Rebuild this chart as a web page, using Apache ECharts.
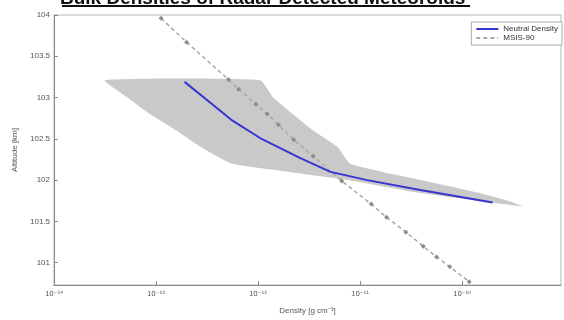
<!DOCTYPE html>
<html>
<head>
<meta charset="utf-8">
<script src="https://cdn.jsdelivr.net/npm/echarts@6/dist/echarts.min.js"></script>
<style>
  html, body { margin: 0; padding: 0; background: #fff; }
  #chart { width: 564px; height: 320px; }
</style>
</head>
<body>
<div id="chart"></div>
<script>
'use strict';

// x values are log10 of density, shown as 10^n on the axis
const xTicks = [-14, -13, -12, -11, -10];
const yTicks = [101, 101.5, 102, 102.5, 103, 103.5, 104];

// Neutral Density (blue line)
const neutralAlt = [103.19, 102.94, 102.72, 102.51, 102.27, 102.10, 102.00, 101.88, 101.73];
const neutralLogDens = [-12.72, -12.47, -12.25, -11.98, -11.59, -11.29, -10.93, -10.41, -9.70];

// grey uncertainty band, left and right edges per altitude
const bandAlt = [103.21, 103.0, 102.8, 102.6, 102.4, 102.2, 102.1, 102.0, 101.85, 101.75, 101.68];
const bandLow = [-13.5, -13.28, -13.06, -12.8, -12.56, -12.26, -11.7, -11.1, -10.44, -9.85, -9.4];
const bandHigh = [-11.98, -11.85, -11.66, -11.46, -11.22, -11.1, -10.78, -10.39, -9.85, -9.55, -9.4];

// MSIS-90
const msisAlt = [103.96, 103.67, 103.22, 103.10, 102.92, 102.80, 102.67, 102.49, 102.29, 101.99, 101.71, 101.55, 101.37, 101.20, 101.07, 100.95, 100.77];
const msisLogDens = [-12.95, -12.70, -12.29, -12.19, -12.02, -11.91, -11.80, -11.65, -11.46, -11.18, -10.89, -10.74, -10.55, -10.38, -10.25, -10.12, -9.93];

const sup = { '-': '⁻', '0': '⁰', '1': '¹', '2': '²', '3': '³', '4': '⁴', '5': '⁵', '6': '⁶', '7': '⁷', '8': '⁸', '9': '⁹' };
function powLabel(v) {
  return '10' + String(Math.round(v)).split('').map(c => sup[c]).join('');
}

const chart = echarts.init(document.getElementById('chart'), null, { renderer: 'canvas' });

const axisGrey = '#8a8a8a';
const labelGrey = '#555';

chart.setOption({
  backgroundColor: '#fff',
  animation: false,
  title: {
    text: 'Bulk Densities of Radar Detected Meteoroids',
    left: 60,
    top: -11,
    padding: 0,
    textStyle: { fontFamily: 'Liberation Sans', fontSize: 19, fontWeight: 'bold', color: '#111' }
  },
  graphic: [{
    type: 'line',
    shape: { x1: 62, y1: 6, x2: 470, y2: 6 },
    style: { stroke: '#111', lineWidth: 2 }
  }],
  legend: {
    orient: 'vertical',
    right: 2,
    top: 22,
    padding: [3, 4, 3, 4],
    itemGap: 1,
    itemWidth: 22,
    itemHeight: 8,
    backgroundColor: '#fff',
    borderColor: '#aaa',
    borderWidth: 1,
    borderRadius: 0,
    itemStyle: { opacity: 0 },
    textStyle: { fontFamily: 'Liberation Sans', fontSize: 8, color: '#333' },
    data: ['Neutral Density', 'MSIS-90']
  },
  grid: {
    left: 54, right: 3, top: 15, bottom: 35,
    show: true, borderColor: '#b5b5b5', borderWidth: 1
  },
  xAxis: {
    type: 'value',
    min: -14,
    max: -9.03,
    interval: 1,
    name: 'Density [g cm⁻³]',
    nameLocation: 'middle',
    nameGap: 22,
    nameTextStyle: { fontFamily: 'Liberation Sans', fontSize: 8, color: labelGrey },
    axisLine: { lineStyle: { color: axisGrey } },
    axisTick: { inside: true, length: 4, lineStyle: { color: axisGrey } },
    axisLabel: {
      fontFamily: 'DejaVu Sans', fontSize: 7, color: labelGrey, margin: 6,
      formatter: v => powLabel(v), showMaxLabel: false
    },
    splitLine: { show: false }
  },
  yAxis: {
    type: 'value',
    min: 100.73,
    max: 104,
    name: 'Altitude [km]',
    nameLocation: 'middle',
    nameGap: 34,
    nameTextStyle: { fontFamily: 'Liberation Sans', fontSize: 8, color: labelGrey },
    axisLine: { show: true, lineStyle: { color: axisGrey } },
    axisTick: { inside: true, length: 4, customValues: yTicks, lineStyle: { color: axisGrey } },
    axisLabel: {
      fontFamily: 'Liberation Sans', fontSize: 8, color: labelGrey, margin: 4,
      customValues: yTicks, formatter: v => String(v)
    },
    splitLine: { show: false }
  },
  series: [
    {
      name: 'band',
      type: 'custom',
      silent: true,
      z: 1,
      data: [0],
      renderItem: function (params, api) {
        const pts = [];
        for (let i = 0; i < bandAlt.length; i++) pts.push(api.coord([bandLow[i], bandAlt[i]]));
        for (let i = bandAlt.length - 1; i >= 0; i--) pts.push(api.coord([bandHigh[i], bandAlt[i]]));
        return {
          type: 'polygon',
          shape: { points: pts, smooth: 0.15 },
          style: { fill: '#c9c9c9', stroke: 'none' }
        };
      }
    },
    {
      name: 'MSIS-90',
      type: 'line',
      z: 3,
      data: msisAlt.map((a, i) => [msisLogDens[i], a]),
      symbol: 'diamond',
      symbolSize: 5,
      itemStyle: { color: '#8c8c8c' },
      lineStyle: { color: '#a8a8a8', width: 1.5, type: [4, 3] }
    },
    {
      name: 'Neutral Density',
      type: 'line',
      z: 4,
      data: neutralAlt.map((a, i) => [neutralLogDens[i], a]),
      showSymbol: false,
      symbol: 'none',
      itemStyle: { color: '#3535d0' },
      lineStyle: { color: '#3535d0', width: 2 }
    }
  ]
});
</script>
</body>
</html>
